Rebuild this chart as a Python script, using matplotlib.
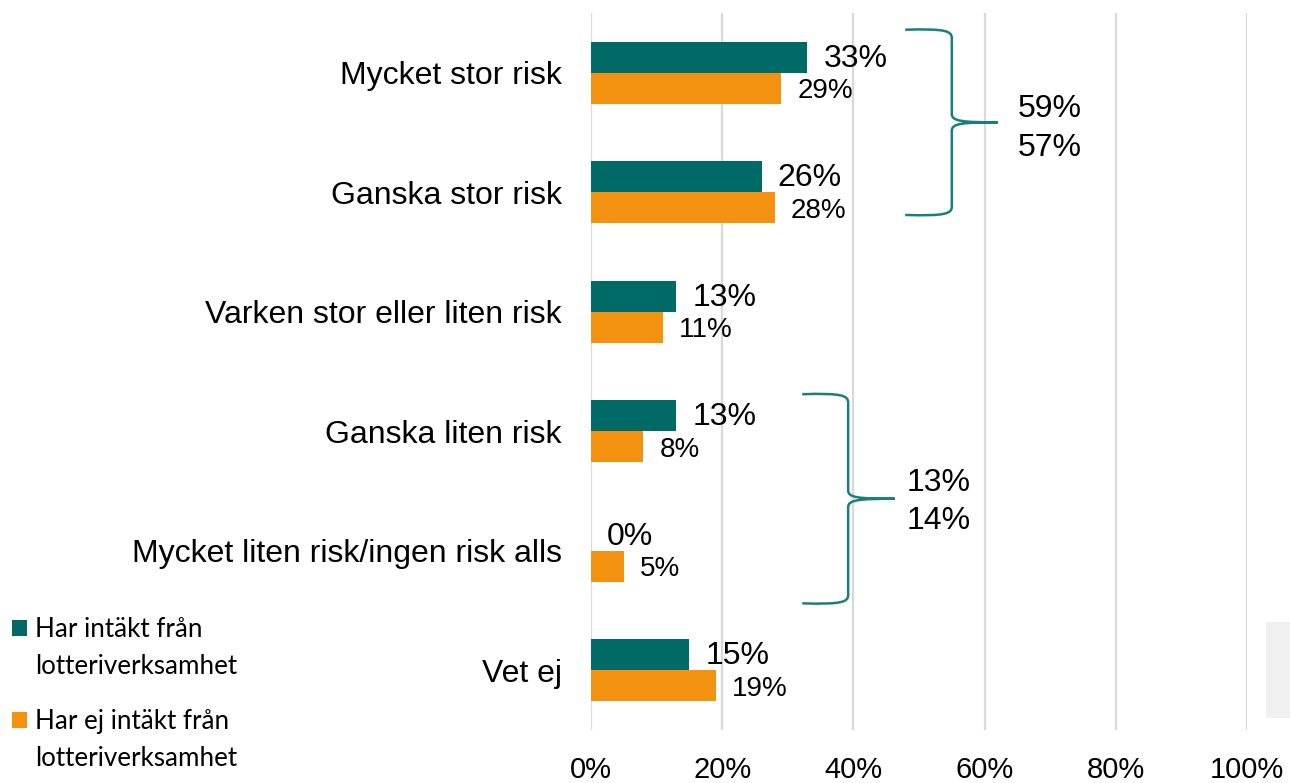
import matplotlib
matplotlib.use("Agg")
import matplotlib.pyplot as plt
from matplotlib.path import Path
from matplotlib.patches import PathPatch, Rectangle

categories = ["Mycket stor risk", "Ganska stor risk", "Varken stor eller liten risk",
              "Ganska liten risk", "Mycket liten risk/ingen risk alls", "Vet ej"]
series_names = ["Har intäkt från\nlotteriverksamhet", "Har ej intäkt från\nlotteriverksamhet"]
har = [33, 26, 13, 13, 0, 15]
har_ej = [29, 28, 11, 8, 5, 19]
group_top = ["59%", "57%"]      # Mycket/Ganska stor risk
group_bottom = ["13%", "14%"]   # Ganska/Mycket liten risk
xticks = [0, 20, 40, 60, 80, 100]

teal = "#006A66"
orange = "#F39110"
brace_col = "#1A7F7C"
FONT = ["Liberation Sans", "DejaVu Sans"]

fig = plt.figure(figsize=(12.9, 7.83), dpi=100)
ax = fig.add_axes([591/1290, 1-730/783, (1247-591)/1290, (730-13)/783])

bh = 0.26
ys = list(range(len(categories)))
ax.barh([y - bh/2 for y in ys], har, height=bh, color=teal, zorder=3)
ax.barh([y + bh/2 for y in ys], har_ej, height=bh, color=orange, zorder=3)

ax.set_ylim(len(categories) - 0.5, -0.5)
ax.set_xlim(0, 100)
ax.set_yticks(ys)
ax.set_yticklabels(categories, fontsize=23, family=FONT)
ax.set_xticks(xticks)
ax.set_xticklabels([f"{t}%" for t in xticks], fontsize=21, family=FONT)
ax.tick_params(axis="y", length=0, pad=21)
ax.tick_params(axis="x", length=0, pad=19)
for s in ax.spines.values():
    s.set_visible(False)
ax.grid(axis="x", color="#D9D9D9", linewidth=1.6, zorder=0)
ax.set_axisbelow(True)

for y, v in zip(ys, har):
    ax.annotate(f"{v}%", (v, y - bh/2), xytext=(11.5, -1), textcoords="offset points",
                ha="left", va="center", fontsize=23, family=FONT)
for y, v in zip(ys, har_ej):
    ax.annotate(f"{v}%", (v, y + bh/2), xytext=(11.5, -2), textcoords="offset points",
                ha="left", va="center", fontsize=20, family=FONT)

def brace(x0, x1, xt, ytop, ybot):
    ym = (ytop + ybot) / 2
    c = 0.07
    verts = [(x0, ytop),
             (x1 - 1.0, ytop - 0.01), (x1, ytop + 0.01), (x1, ytop + c),
             (x1, ym - c),
             (x1, ym - 0.01), (x1 + 1.5, ym), (xt, ym),
             (x1 + 1.5, ym), (x1, ym + 0.01), (x1, ym + c),
             (x1, ybot - c),
             (x1, ybot - 0.01), (x1 - 1.0, ybot + 0.01), (x0, ybot)]
    codes = [Path.MOVETO,
             Path.CURVE4, Path.CURVE4, Path.CURVE4,
             Path.LINETO,
             Path.CURVE4, Path.CURVE4, Path.CURVE4,
             Path.CURVE4, Path.CURVE4, Path.CURVE4,
             Path.LINETO,
             Path.CURVE4, Path.CURVE4, Path.CURVE4]
    ax.add_patch(PathPatch(Path(verts, codes), fill=False, edgecolor=brace_col,
                           linewidth=1.8, clip_on=False, zorder=4))

brace(47.9, 55.0, 62.0, -0.36, 1.19)
ax.text(65.0, 0.30, group_top[0], ha="left", va="center", fontsize=23, family=FONT)
ax.text(65.0, 0.63, group_top[1], ha="left", va="center", fontsize=23, family=FONT)

brace(32.2, 39.2, 46.3, 2.69, 4.44)
ax.text(48.1, 3.43, group_bottom[0], ha="left", va="center", fontsize=23, family=FONT)
ax.text(48.1, 3.75, group_bottom[1], ha="left", va="center", fontsize=23, family=FONT)

# legend (manual, marker aligned with first line)
leg_y = [628, 720]
for col, yy in zip([teal, orange], leg_y):
    fig.patches.append(Rectangle((12/1290, 1 - (yy + 8)/783), 15/1290, 16/783,
                                 transform=fig.transFigure, facecolor=col, edgecolor="none"))
for name, yy in zip(series_names, leg_y):
    fig.text(35/1290, 1 - (yy - 11)/783, name, ha="left", va="top", fontsize=18.7,
             family="Lato", linespacing=1.6)

# grey box at lower right (partially visible element)
fig.patches.append(Rectangle((1266/1290, 1 - 718/783), 30/1290, 96/783,
                             transform=fig.transFigure, facecolor="#F0F0F0", edgecolor="none"))

fig.savefig("out.png", dpi=100)
